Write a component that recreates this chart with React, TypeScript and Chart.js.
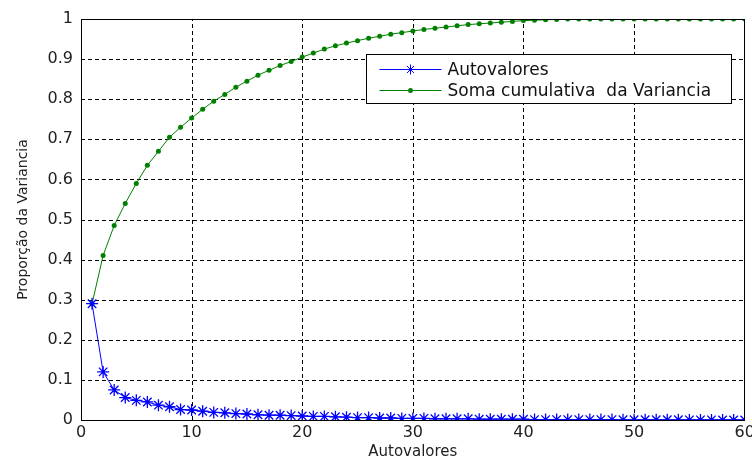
import React, { useEffect, useRef } from "react";
import { Chart, registerables } from "chart.js";

Chart.register(...registerables);

const xValues: number[] = Array.from({ length: 60 }, (_, i) => i + 1);

const autovalores: number[] = [
  0.29, 0.12, 0.075, 0.056, 0.049, 0.045, 0.037, 0.033, 0.026, 0.025,
  0.022, 0.019, 0.018, 0.016, 0.015, 0.013, 0.012, 0.012, 0.011, 0.010,
  0.009, 0.009, 0.008, 0.007, 0.006, 0.006, 0.005, 0.005, 0.004, 0.004,
  0.004, 0.003, 0.003, 0.003, 0.003, 0.002, 0.002, 0.002, 0.002, 0.002,
  0.001, 0.001, 0.001, 0.001, 0.001, 0.001, 0.001, 0.001, 0.0005, 0.0005,
  0.0005, 0.0005, 0.0005, 0.0005, 0.0003, 0.0003, 0.0003, 0.0002, 0.0002, 0.0001,
];

const somaCumulativa: number[] = [
  0.29, 0.41, 0.485, 0.54, 0.59, 0.635, 0.67, 0.705, 0.73, 0.753,
  0.775, 0.795, 0.812, 0.83, 0.845, 0.86, 0.872, 0.884, 0.894, 0.905,
  0.915, 0.925, 0.933, 0.94, 0.946, 0.952, 0.957, 0.962, 0.966, 0.97,
  0.974, 0.977, 0.98, 0.983, 0.986, 0.988, 0.99, 0.992, 0.994, 0.996,
  0.997, 0.998, 0.999, 1.0, 1.0, 1.0, 1.0, 1.0, 1.0, 1.0,
  1.0, 1.0, 1.0, 1.0, 1.0, 1.0, 1.0, 1.0, 1.0, 1.0,
];

const seriesLabels: string[] = ["Autovalores", "Soma cumulativa  da Variancia"];
const xTitle = "Autovalores";
const yTitle = "Proporção da Variancia";

const FONT = "'DejaVu Sans', 'Liberation Sans', sans-serif";

const dashedGrid = {
  id: "dashedGrid",
  beforeDatasetsDraw(chart: any) {
    const { ctx, chartArea, scales } = chart;
    const { left, top, right, bottom } = chartArea;
    ctx.save();
    ctx.strokeStyle = "#000";
    ctx.lineWidth = 1;
    ctx.setLineDash([4, 3]);
    scales.x.ticks.forEach((t: any) => {
      const px = Math.round(scales.x.getPixelForValue(t.value)) + 0.5;
      if (px <= left + 1 || px >= right - 1) return;
      ctx.beginPath();
      ctx.moveTo(px, bottom);
      ctx.lineTo(px, top);
      ctx.stroke();
    });
    scales.y.ticks.forEach((t: any) => {
      const py = Math.round(scales.y.getPixelForValue(t.value)) + 0.5;
      if (py <= top + 1 || py >= bottom - 1) return;
      ctx.beginPath();
      ctx.moveTo(left, py);
      ctx.lineTo(right, py);
      ctx.stroke();
    });
    ctx.restore();
  },
};

const frameAndLegend = {
  id: "frameAndLegend",
  afterDatasetsDraw(chart: any) {
    const { ctx, chartArea } = chart;
    const { left, top, right, bottom } = chartArea;
    ctx.save();
    ctx.strokeStyle = "#000";
    ctx.lineWidth = 1;
    ctx.setLineDash([]);
    ctx.strokeRect(Math.round(left) + 0.5, Math.round(top) + 0.5, Math.round(right - left) - 1, Math.round(bottom - top));

    // legend box
    const bw = 365;
    const bh = 49;
    const bx = Math.round(right - 14 - bw) + 0.5;
    const by = Math.round(top + 35) + 0.5;
    ctx.fillStyle = "#fff";
    ctx.fillRect(bx, by, bw, bh);
    ctx.strokeStyle = "#000";
    ctx.strokeRect(bx, by, bw, bh);
    ctx.font = `17px ${FONT}`;
    ctx.textBaseline = "middle";
    ctx.textAlign = "left";
    const datasets = chart.data.datasets;
    datasets.forEach((ds: any, i: number) => {
      const y = Math.round(by + 14 + i * 21.5) + 0.5;
      ctx.strokeStyle = ds.borderColor;
      ctx.lineWidth = 1;
      ctx.beginPath();
      ctx.moveTo(bx + 13, y);
      ctx.lineTo(bx + 75, y);
      ctx.stroke();
      const mx = bx + 44;
      if (i === 0) {
        const r = 5;
        ctx.beginPath();
        ctx.moveTo(mx - r, y);
        ctx.lineTo(mx + r, y);
        ctx.moveTo(mx, y - r);
        ctx.lineTo(mx, y + r);
        const d = r * 0.707;
        ctx.moveTo(mx - d, y - d);
        ctx.lineTo(mx + d, y + d);
        ctx.moveTo(mx - d, y + d);
        ctx.lineTo(mx + d, y - d);
        ctx.stroke();
      } else {
        ctx.fillStyle = ds.borderColor;
        ctx.beginPath();
        ctx.arc(mx, y, 2.5, 0, Math.PI * 2);
        ctx.fill();
      }
      ctx.fillStyle = "#111";
      ctx.fillText(ds.label, bx + 81, y + 1);
    });
    ctx.restore();
  },
};

export default function App() {
  const ref = useRef<HTMLCanvasElement | null>(null);

  useEffect(() => {
    if (!ref.current) return;
    const chart = new Chart(ref.current, {
      type: "line",
      data: {
        datasets: [
          {
            label: seriesLabels[0],
            data: xValues.map((x, i) => ({ x, y: autovalores[i] })),
            borderColor: "#0000ff",
            backgroundColor: "#0000ff",
            borderWidth: 1,
            pointStyle: "star",
            pointRadius: 6,
            pointBorderWidth: 1.3,
            pointBorderColor: "#0000ff",
            tension: 0,
          },
          {
            label: seriesLabels[1],
            data: xValues.map((x, i) => ({ x, y: somaCumulativa[i] })),
            borderColor: "#008000",
            backgroundColor: "#008000",
            borderWidth: 1,
            pointStyle: "circle",
            pointRadius: 2.5,
            pointBorderWidth: 0,
            tension: 0,
          },
        ],
      },
      options: {
        animation: false,
        responsive: false,
        devicePixelRatio: 1,
        layout: { padding: { top: 19, right: 6, left: 0, bottom: 0 } },
        plugins: {
          legend: { display: false },
          tooltip: { enabled: false },
        },
        scales: {
          x: {
            type: "linear",
            min: 0,
            max: 60,
            ticks: {
              stepSize: 10,
              font: { family: FONT, size: 16 },
              color: "#222",
              padding: 3,
            },
            grid: { display: false, drawTicks: false },
            border: { display: true, color: "#000" },
            title: {
              display: true,
              text: xTitle,
              font: { family: FONT, size: 15 },
              color: "#222",
              padding: { top: 0, bottom: 0 },
            },
            afterFit(scale: any) {
              scale.height = 41;
              scale.paddingLeft = 0;
              scale.paddingRight = 0;
            },
          } as any,
          y: {
            type: "linear",
            min: 0,
            max: 1,
            ticks: {
              stepSize: 0.1,
              font: { family: FONT, size: 16 },
              color: "#222",
              padding: 8,
              callback: (v: any) => String(Math.round(Number(v) * 10) / 10),
            },
            grid: { display: false, drawTicks: false },
            border: { display: true, color: "#000" },
            title: {
              display: true,
              text: yTitle,
              font: { family: FONT, size: 14 },
              color: "#222",
              padding: { top: 15, bottom: 0 },
            },
            afterFit(scale: any) {
              scale.width = 81;
              scale.paddingTop = 0;
              scale.paddingBottom = 0;
            },
          } as any,
        },
      },
      plugins: [dashedGrid, frameAndLegend],
    });
    return () => chart.destroy();
  }, []);

  return (
    <div style={{ position: "fixed", left: 0, top: 0, width: 752, height: 461, background: "#fff" }}>
      <canvas ref={ref} width={752} height={461} style={{ display: "block" }} />
    </div>
  );
}
